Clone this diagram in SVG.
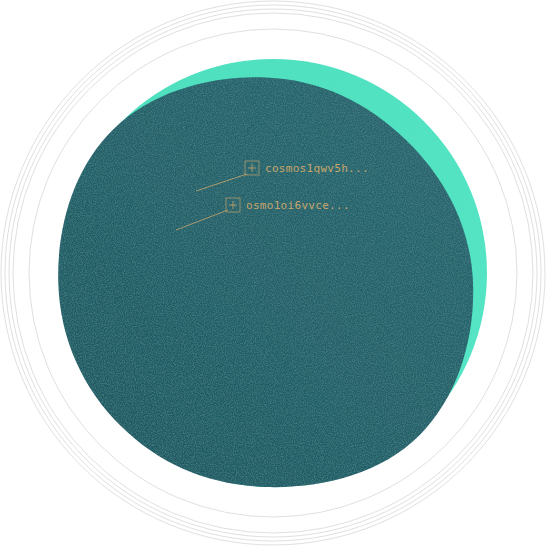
<svg xmlns="http://www.w3.org/2000/svg" width="546" height="546" viewBox="0 0 546 546">
<style>
.ring{fill:none;stroke:#e0e0e0;stroke-width:1}
.lbl{font-family:"DejaVu Sans Mono","Liberation Mono",monospace;font-size:11px;fill:#c8a56a;letter-spacing:0.3px}
.box{fill:none;stroke:#c8a56a;stroke-width:0.8;opacity:0.8}
.lead{stroke:#c8a56a;stroke-width:1;fill:none;opacity:0.8}
</style>
<defs>
<linearGradient id="dg" x1="0" y1="1" x2="1" y2="0">
<stop offset="0" stop-color="#1f575f"/>
<stop offset="1" stop-color="#2b676f"/>
</linearGradient>
<linearGradient id="gg" x1="0" y1="0" x2="1" y2="1">
<stop offset="0" stop-color="#4edfbf"/>
<stop offset="1" stop-color="#56e6c6"/>
</linearGradient>
<filter id="grain" x="0" y="0" width="100%" height="100%">
<feTurbulence type="fractalNoise" baseFrequency="0.9" numOctaves="2" seed="3" result="n"/>
<feColorMatrix in="n" type="matrix" values="0 0 0 0 0.09  0 0 0 0 0.28  0 0 0 0 0.31  0 0 0 -1.2 0.75" result="nc"/>
<feComposite in="nc" in2="SourceGraphic" operator="in" result="ng"/>
<feMerge><feMergeNode in="SourceGraphic"/><feMergeNode in="ng"/></feMerge>
</filter>
</defs>
<g id="rings">
<circle class="ring" cx="273" cy="273" r="272"/>
<circle class="ring" cx="273" cy="273" r="268"/>
<circle class="ring" cx="273" cy="273" r="264"/>
<circle class="ring" cx="273" cy="273" r="260"/>
<circle class="ring" cx="273" cy="273" r="244"/>
</g>
<g id="outer-disc">
<circle cx="273" cy="273" r="214" fill="url(#gg)"/>
</g>
<g id="inner-disc">
<path fill="url(#dg)" filter="url(#grain)" d="M265.6 77.4C320.7 79.5 368.1 102.6 407 141C445.9 179.4 470.75 227.1 473 282.4C475.3 337.7 457.9 397.4 419 435.8C380.1 474.2 321.4 488.7 265.6 487C209.8 485.3 160.3 465 121.4 426.6C82.5 388.2 59.9 338.1 58.3 282.4C56.7 226.7 74 168.1 112.9 129.7C151.8 91.3 210.5 75.3 265.6 77.4Z"/>
</g>
<g id="connectors">
<line class="lead" x1="247" y1="174" x2="196" y2="191"/>
<line class="lead" x1="228" y1="210" x2="176" y2="230"/>
</g>
<g id="node-cosmos">
<rect class="box" x="245" y="161" width="14" height="14"/>
<path class="lead" d="M248 168H256M252 164V172"/>
<text class="lbl" x="265" y="172">cosmos1qwv5h...</text>
</g>
<g id="node-osmo">
<rect class="box" x="226" y="198" width="14" height="14"/>
<path class="lead" d="M229 205H237M233 201V209"/>
<text class="lbl" x="246" y="209">osmo1oi6vvce...</text>
</g>
</svg>
